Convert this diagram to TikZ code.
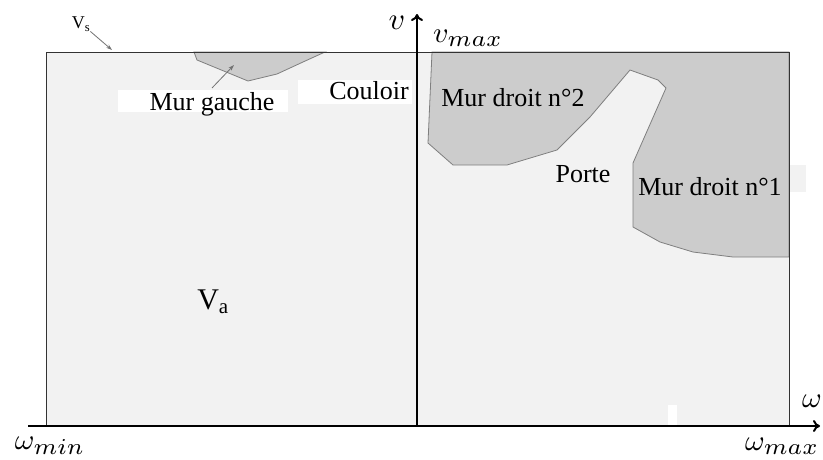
\documentclass[tikz,border=0pt]{standalone}
\usepackage{graphicx}
\usepackage{fontspec}
\setmainfont{Liberation Serif}
\usetikzlibrary{arrows.meta}
\definecolor{bgfill}{HTML}{F2F2F2}
\definecolor{wall}{HTML}{CCCCCC}
\definecolor{wallline}{HTML}{7F7F7F}
\newcommand{\subm}[1]{\scalebox{1.12}{$\scriptstyle #1$}}
\begin{document}
\begin{tikzpicture}[x=1pt,y=-1pt,
  lbl/.style={font=\fontsize{26}{30}\selectfont, inner sep=0pt},
  mth/.style={inner sep=0pt},
  axis/.style={line width=2pt, -{To[length=7pt,width=12pt]}},
  pointer/.style={draw=black!55, line width=0.8pt, -{Stealth[length=6pt,width=4pt]}},
  wallst/.style={fill=wall, draw=wallline, line width=0.8pt}]
\useasboundingbox (0,0) rectangle (823,459);
\fill[white] (0,0) rectangle (823,459);
\fill[bgfill] (46,52) rectangle (789,426);
% patches
\fill[white] (118,90) rectangle (288,112);
\fill[white] (298,80) rectangle (412,104);
\fill[white] (668,405) rectangle (677,426);
\fill[bgfill] (789,165) rectangle (806,192);
% walls
\filldraw[wallst] (194,52) -- (197,60) -- (248,81) -- (277,74) -- (303,62) -- (325,52) -- cycle;
\filldraw[wallst] (432,52) -- (428,143) -- (453,165) -- (507,165) -- (557,150) -- (590,117)
  -- (630,70) -- (658,80) -- (666,88) -- (633,163) -- (633,227) -- (660,242) -- (693,252)
  -- (733,257) -- (789,257) -- (789,52) -- cycle;
% border
\draw[black!80, line width=1pt] (46,52) rectangle (789,426);
% axes
\coordinate (xs) at (28,426);
\coordinate (xe) at (820,426);
\coordinate (ys) at (417,426);
\coordinate (ye) at (417,14);
\draw[axis] (xs) -- (xe);
\draw[axis] (ys) -- (ye);
% labels
\node[lbl, font=\fontsize{18}{22}\selectfont] (vs) at (81,24) {V\textsubscript{s}};
\coordinate (vsend) at (112,50);
\draw[pointer] (vs.south east) -- (vsend);
\node[lbl] (mg) at (212,104) {Mur gauche};
\coordinate (mgend) at (234,65);
\draw[pointer] ([yshift=4pt]mg.north) -- (mgend);
\node[lbl] (cl) at (369,91) {Couloir};
\node[lbl] (md2) at (513,98) {Mur droit n°2};
\node[lbl] (pt) at (583,174) {Porte};
\node[lbl] (md1) at (710,187) {Mur droit n°1};
\node[lbl, font=\fontsize{30}{34}\selectfont] (va) at (213,302) {V\textsubscript{a}};
\node[mth] (v) at (397,23) {\scalebox{3.2}[3.1]{$v$}};
\node[mth, anchor=west] (vmax) at (433,38) {\scalebox{3.0}[2.9]{$v_{\subm{max}}$}};
\node[mth, anchor=west] (w) at (802,401) {\scalebox{3.0}[2.9]{$\omega$}};
\node[mth] (wmin) at (50,446) {\scalebox{3.0}[2.9]{$\omega_{\subm{min}}$}};
\node[mth, anchor=west] (wmax) at (745,446) {\scalebox{3.0}[2.9]{$\omega_{\subm{max}}$}};
\end{tikzpicture}
\end{document}
